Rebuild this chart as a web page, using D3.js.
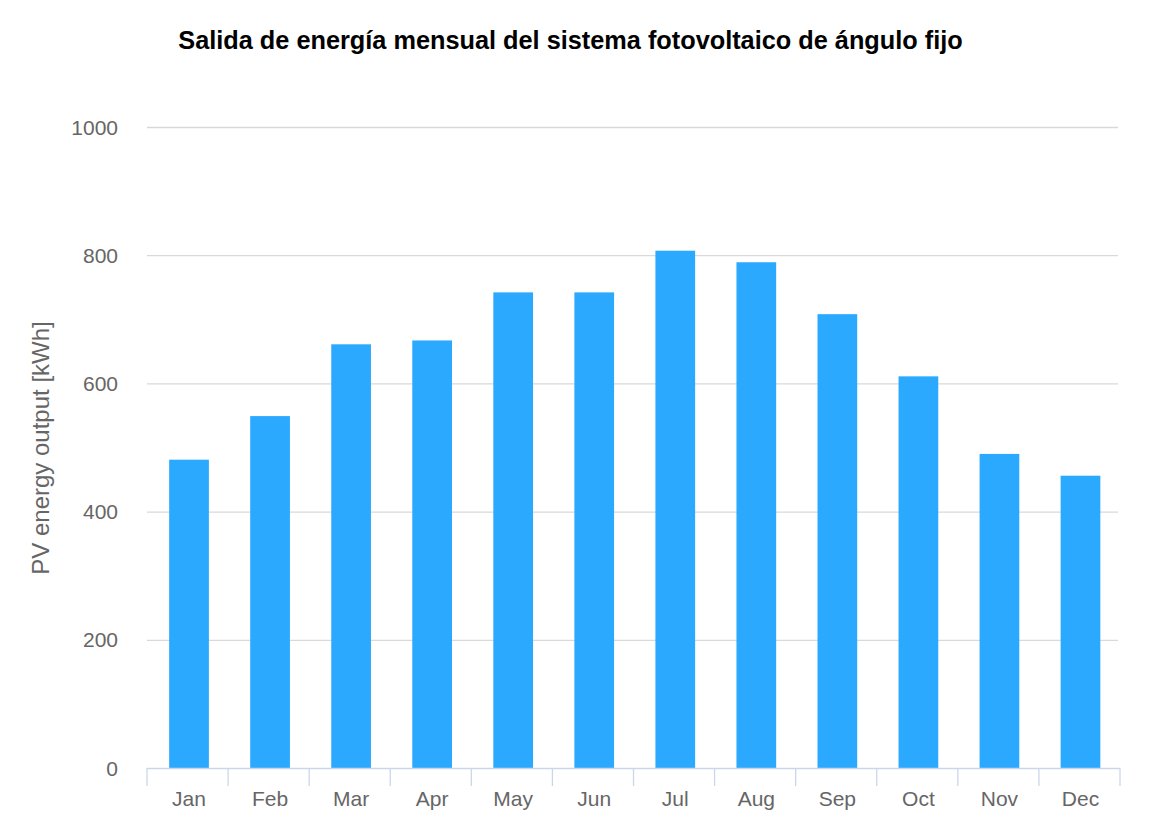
<!DOCTYPE html>
<html>
<head>
<meta charset="utf-8">
<script src="https://cdn.jsdelivr.net/npm/d3@7"></script>
<style>
  body { margin: 0; background: #fff; }
  text { font-family: "Liberation Sans", Arial, Helvetica, sans-serif; }
</style>
</head>
<body>
<svg id="chart" width="1158" height="818"></svg>
<script>
const months = ["Jan", "Feb", "Mar", "Apr", "May", "Jun", "Jul", "Aug", "Sep", "Oct", "Nov", "Dec"];
const output = [481, 549, 661, 667, 742, 742, 807, 789, 708, 611, 490, 456];
const yTicks = [0, 200, 400, 600, 800, 1000];

const svg = d3.select("#chart");
const plotLeft = 147, plotRight = 1120, plotTop = 127, plotBottom = 768;

// escalas
const x = d3.scaleBand().domain(months).range([plotLeft + 1.5, plotRight + 1]).paddingInner(0.51).paddingOuter(0.255);
const y = d3.scaleLinear().domain([0, 1000]).range([plotBottom, plotTop]);

// título
svg.append("text")
  .attr("x", 570.5).attr("y", 49)
  .attr("text-anchor", "middle")
  .attr("font-size", 25.3).attr("font-weight", "bold")
  .attr("fill", "#000")
  .text("Salida de energía mensual del sistema fotovoltaico de ángulo fijo");

// rejilla + etiquetas eje y
const yg = svg.append("g");
yg.selectAll("line").data(yTicks.filter(d => d > 0)).enter().append("line")
  .attr("x1", plotLeft).attr("x2", 1118)
  .attr("y1", d => y(d) + 0.5).attr("y2", d => y(d) + 0.5)
  .attr("stroke", "#d9d9d9").attr("stroke-width", 1.3);
yg.selectAll("text").data(yTicks).enter().append("text")
  .attr("x", 118).attr("y", d => y(d) + 7.5)
  .attr("text-anchor", "end")
  .attr("font-size", 21).attr("fill", "#666")
  .text(d => d);

svg.append("text")
  .attr("transform", "translate(49,448) rotate(-90)")
  .attr("text-anchor", "middle")
  .attr("font-size", 24).attr("fill", "#666")
  .text("PV energy output [kWh]");

// barras
svg.append("g").selectAll("rect").data(output).enter().append("rect")
  .attr("x", (d, i) => x(months[i]))
  .attr("y", d => y(d))
  .attr("width", x.bandwidth())
  .attr("height", d => plotBottom - y(d))
  .attr("fill", "#2ba9ff");

// eje x
const step = (plotRight - plotLeft) / months.length;
const xg = svg.append("g");
xg.append("line")
  .attr("x1", plotLeft).attr("x2", plotRight)
  .attr("y1", plotBottom + 0.5).attr("y2", plotBottom + 0.5)
  .attr("stroke", "#ccd6eb").attr("stroke-width", 1.3);
xg.selectAll(".tick").data(d3.range(months.length + 1)).enter().append("line")
  .attr("x1", i => plotLeft + i * step).attr("x2", i => plotLeft + i * step)
  .attr("y1", plotBottom).attr("y2", plotBottom + 18)
  .attr("stroke", "#ccd6eb").attr("stroke-width", 1.3);
xg.selectAll("text").data(months).enter().append("text")
  .attr("x", d => x(d) + x.bandwidth() / 2)
  .attr("y", 806)
  .attr("text-anchor", "middle")
  .attr("font-size", 21).attr("fill", "#666")
  .text(d => d);
</script>
</body>
</html>
